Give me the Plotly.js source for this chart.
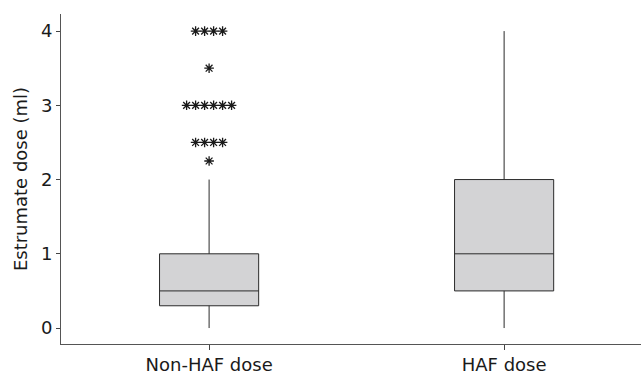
<!DOCTYPE html>
<html>
<head>
<meta charset="utf-8">
<script src="https://cdn.plot.ly/plotly-3.0.1.min.js"></script>
<style>html,body{margin:0;padding:0;background:#fff;}#chart{width:641px;height:374px;}</style>
</head>
<body>
<div id="chart"></div>
<script>
// Data
var categories = ["Non-HAF dose", "HAF dose"];
var lowerFence = [0, 0];
var q1 = [0.3, 0.5];
var median = [0.5, 1.0];
var q3 = [1.0, 2.0];
var upperFence = [2.0, 4.0];
// Outliers for Non-HAF dose: value and count
var outlierValues = [2.25, 2.5, 3.0, 3.5, 4.0];
var outlierCounts = [1, 4, 6, 1, 4];
var yTicks = [0, 1, 2, 3, 4];
var yTitle = "Estrumate dose (ml)";

var boxColor = "#2a2a2a";
var fillColor = "#d3d3d5";
var font = "DejaVu Sans, Verdana, sans-serif";

var traces = categories.map(function (c, i) {
  return {
    type: "box",
    x: [i],
    q1: [q1[i]],
    median: [median[i]],
    q3: [q3[i]],
    lowerfence: [lowerFence[i]],
    upperfence: [upperFence[i]],
    width: 0.336,
    whiskerwidth: 0,
    boxpoints: false,
    fillcolor: fillColor,
    line: {color: boxColor, width: 1},
    hoverinfo: "skip",
    showlegend: false
  };
});

// Outlier stars, spread side by side per repeated value
var ox = [], oy = [];
var step = 0.0305;
outlierValues.forEach(function (v, k) {
  var n = outlierCounts[k];
  for (var j = 0; j < n; j++) {
    ox.push(0 + (j - (n - 1) / 2) * step);
    oy.push(v);
  }
});
traces.push({
  type: "scatter",
  mode: "markers",
  x: ox,
  y: oy,
  marker: {symbol: "asterisk-open", size: 8, color: "#1a1a1a", line: {color: "#1a1a1a", width: 1.3}},
  hoverinfo: "skip",
  showlegend: false
});

var layout = {
  width: 641,
  height: 374,
  margin: {l: 61, r: 0, t: 14, b: 30, pad: 0},
  paper_bgcolor: "#ffffff",
  plot_bgcolor: "#ffffff",
  font: {family: font, size: 18, color: "#1a1a1a"},
  xaxis: {
    range: [-0.502, 1.464],
    tickvals: [0, 1],
    ticktext: categories,
    ticks: "outside",
    ticklen: 5,
    tickcolor: "#444",
    ticklabelstandoff: -1,
    showline: true,
    linecolor: "#555",
    linewidth: 1,
    showgrid: false,
    zeroline: false,
    tickfont: {family: font, size: 18, color: "#1a1a1a"}
  },
  yaxis: {
    range: [-0.215, 4.23],
    tickvals: yTicks,
    ticks: "outside",
    ticklen: 4,
    tickcolor: "#444",
    showline: true,
    linecolor: "#555",
    linewidth: 1,
    showgrid: false,
    zeroline: false,
    tickfont: {family: font, size: 18, color: "#1a1a1a"},
    title: {text: yTitle, font: {family: font, size: 18, color: "#1a1a1a"}, standoff: 8}
  }
};

Plotly.newPlot("chart", traces, layout, {displayModeBar: false, staticPlot: true});
</script>
</body>
</html>
